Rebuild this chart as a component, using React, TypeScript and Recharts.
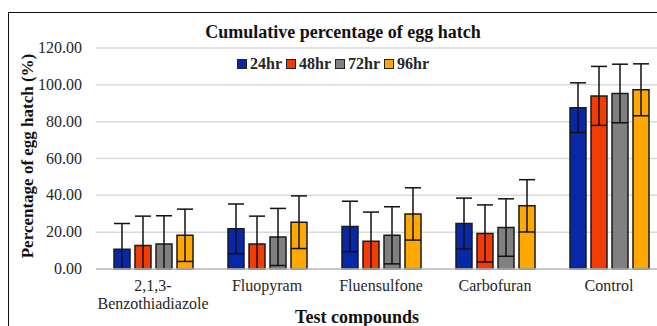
import React from "react";
import { BarChart, Bar, XAxis, YAxis, CartesianGrid, ErrorBar } from "recharts";

const compounds = ["2,1,3-Benzothiadiazole", "Fluopyram", "Fluensulfone", "Carbofuran", "Control"];
const hr24 = [10.7, 21.8, 23.1, 24.7, 87.6];
const hr48 = [12.7, 13.6, 15.1, 19.3, 94.0];
const hr72 = [13.6, 17.4, 18.3, 22.5, 95.3];
const hr96 = [18.3, 25.4, 29.9, 34.3, 97.3];
const err24 = [14.0, 13.5, 13.7, 13.8, 13.5];
const err48 = [16.0, 15.1, 15.8, 15.5, 16.0];
const err72 = [15.3, 15.5, 15.5, 15.6, 15.9];
const err96 = [14.2, 14.3, 14.2, 14.2, 14.1];
const yTicks = [0, 20, 40, 60, 80, 100, 120];

// error bars are cut at the 0 axis, as in the original
const clipErr = (v: number, e: number) => [Math.min(e, v), e];

const data = compounds.map((name, i) => ({
  name,
  hr24: hr24[i],
  hr48: hr48[i],
  hr72: hr72[i],
  hr96: hr96[i],
  err24: clipErr(hr24[i], err24[i]),
  err48: clipErr(hr48[i], err48[i]),
  err72: clipErr(hr72[i], err72[i]),
  err96: clipErr(hr96[i], err96[i]),
}));

const series = [
  { key: "hr24", err: "err24", name: "24hr", color: "#0828a8" },
  { key: "hr48", err: "err48", name: "48hr", color: "#f23c02" },
  { key: "hr72", err: "err72", name: "72hr", color: "#808080" },
  { key: "hr96", err: "err96", name: "96hr", color: "#ffa800" },
];

const font = "'Liberation Serif', 'Times New Roman', serif";

function CategoryTick({ x, y, payload }: any) {
  const label: string = payload.value;
  const cut = label.indexOf("-");
  const lines = cut >= 0 ? [label.slice(0, cut + 1), label.slice(cut + 1)] : [label];
  return (
    <text x={x} y={y} textAnchor="middle" fill="#262626" fontFamily={font} fontSize={16}>
      {lines.map((l, i) => (
        <tspan key={i} x={x} dy={i === 0 ? 14 : 18}>
          {l}
        </tspan>
      ))}
    </text>
  );
}

function YTick({ x, y, payload }: any) {
  return (
    <text x={x} y={y} dy={5} textAnchor="end" fill="#262626" fontFamily={font} fontSize={16}>
      {Number(payload.value).toFixed(2)}
    </text>
  );
}

export default function App() {
  return (
    <div style={{ position: "fixed", left: 0, top: 0, width: 657, height: 326, overflow: "hidden", background: "#fff", fontFamily: font }}>
      <div style={{ position: "absolute", left: 8, top: 12, width: 700, height: 400, borderLeft: "1.5px solid #111", borderTop: "1.5px solid #111" }} />
      <div style={{ position: "absolute", left: 0, width: 686, top: 22, textAlign: "center", fontWeight: "bold", fontSize: 18, color: "#111" }}>
        Cumulative percentage of egg hatch
      </div>
      <div
        style={{
          position: "absolute",
          left: 28,
          top: 156,
          transform: "translate(-50%, -50%) rotate(-90deg)",
          whiteSpace: "nowrap",
          fontWeight: "bold",
          fontSize: 17,
          color: "#111",
        }}
      >
        Percentage of egg hatch (%)
      </div>
      <div style={{ position: "absolute", left: 0, width: 714, top: 307, textAlign: "center", fontWeight: "bold", fontSize: 18, color: "#111" }}>
        Test compounds
      </div>
      <div style={{ position: "absolute", left: 237, top: 55, display: "flex", gap: 4, fontWeight: "bold", fontSize: 16, color: "#262626" }}>
        {series.map((s) => (
          <div key={s.key} style={{ display: "flex", alignItems: "center" }}>
            <span style={{ width: 8, height: 8, background: s.color, border: "1px solid #222", marginRight: 3 }} />
            {s.name}
          </div>
        ))}
      </div>
      <div style={{ position: "absolute", left: 0, top: 0 }}>
        <BarChart
          width={680}
          height={326}
          data={data}
          margin={{ top: 48, right: 14, bottom: 0, left: 0 }}
          barSize={16}
          barGap={5}
        >
          <CartesianGrid vertical={false} stroke="#d9d9d9" strokeWidth={1.5} />
          <XAxis dataKey="name" height={57} tickLine={false} stroke="#bfbfbf" strokeWidth={1.5} tick={<CategoryTick />} interval={0} />
          <YAxis
            width={96}
            domain={[0, 120]}
            ticks={yTicks}
            axisLine={false}
            tickLine={false}
            tickMargin={8}
            tick={<YTick />}
          />
          {series.map((s) => (
            <Bar key={s.key} dataKey={s.key} name={s.name} fill={s.color} stroke="#1a1a1a" strokeWidth={1.5} isAnimationActive={false}>
              <ErrorBar dataKey={s.err} width={8} stroke="#111" strokeWidth={1.5} direction="y" />
            </Bar>
          ))}
        </BarChart>
      </div>
    </div>
  );
}
